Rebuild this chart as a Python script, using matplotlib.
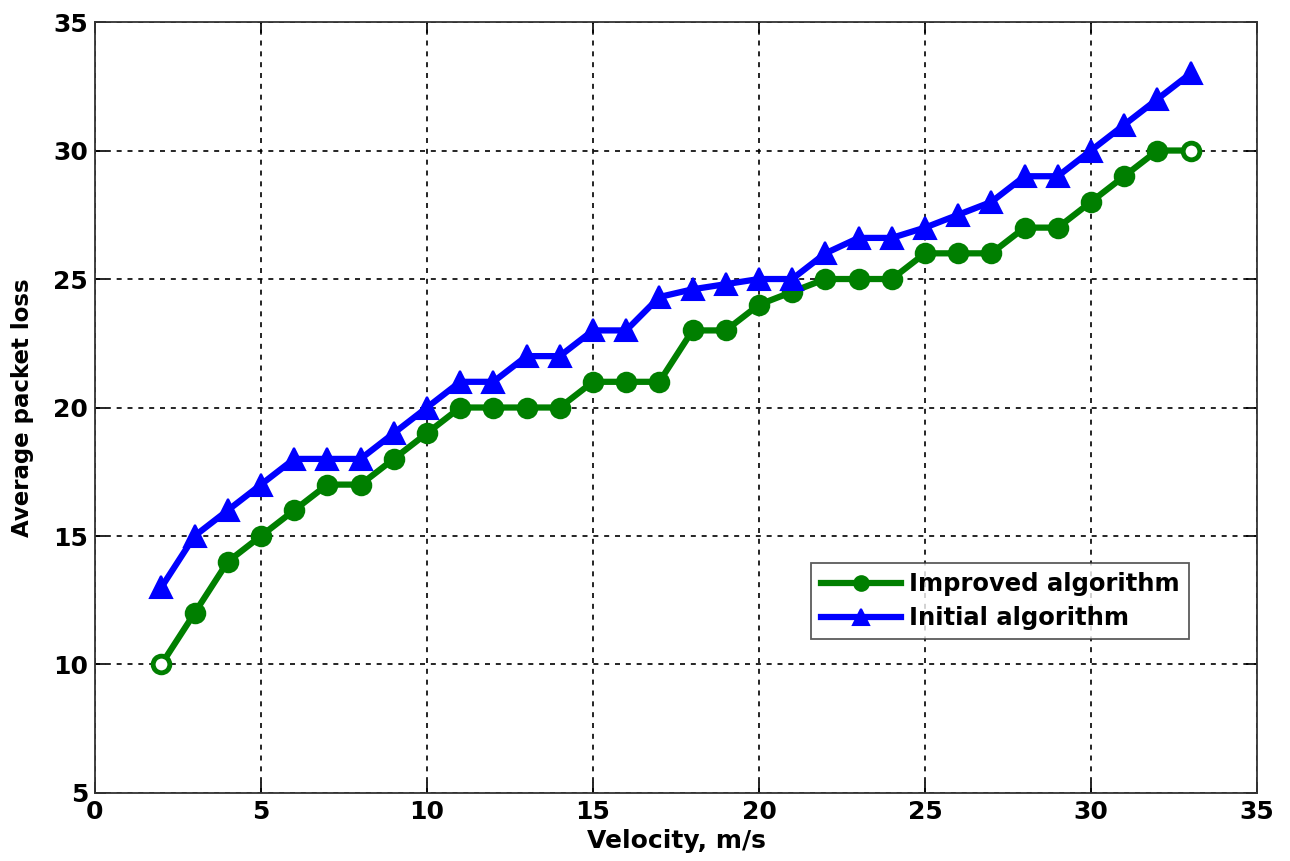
import matplotlib
matplotlib.use('Agg')
import matplotlib.pyplot as plt
import numpy as np

plt.rcParams['font.family'] = ['DejaVu Sans']

# data
velocity = [2, 3, 4, 5, 6, 7, 8, 9, 10, 11, 12, 13, 14, 15, 16, 17,
            18, 19, 20, 21, 22, 23, 24, 25, 26, 27, 28, 29, 30, 31, 32, 33]
improved = [10, 12, 14, 15, 16, 17, 17, 18, 19, 20, 20, 20, 20, 21, 21, 21,
            23, 23, 24, 24.5, 25, 25, 25, 26, 26, 26, 27, 27, 28, 29, 30, 30]
initial = [13, 15, 16, 17, 18, 18, 18, 19, 20, 21, 21, 22, 22, 23, 23, 24.3,
           24.6, 24.8, 25, 25, 26, 26.6, 26.6, 27, 27.5, 28, 29, 29, 30, 31, 32, 33]

green = '#007f00'
blue = '#0000ff'
inner = list(range(1, len(velocity) - 1))
ends = [0, len(velocity) - 1]

fig = plt.figure(figsize=(12.9, 8.61), dpi=100)
ax = fig.add_axes([0.0736, 0.079, 0.9008, 0.8954])

ax.plot(velocity, improved, color=green, lw=4.5, marker='o', ms=14,
        mew=1.5, markevery=inner, label='Improved algorithm', zorder=3)
ax.plot(velocity, improved, ls='none', marker='o', ms=12, mew=3.5,
        mec=green, mfc='white', markevery=ends, zorder=3)
ax.plot(velocity, initial, color=blue, lw=4.5, marker='^', ms=16,
        mew=1.5, label='Initial algorithm', zorder=4)

ax.set_xlim(0, 35)
ax.set_ylim(5, 35)
ax.set_xticks(np.arange(0, 36, 5))
ax.set_yticks(np.arange(5, 36, 5))
ax.grid(True, color='black', linestyle=(0, (3, 3.5)), linewidth=1.2)
ax.tick_params(direction='in', length=8, width=1.2, top=True, right=True,
               labelsize=18, pad=5)
for lab in ax.get_xticklabels() + ax.get_yticklabels():
    lab.set_fontweight('bold')
for s in ax.spines.values():
    s.set_linewidth(1.3)
    s.set_color('#333333')

ax.set_xlabel('Velocity, m/s', fontsize=18, fontweight='bold', labelpad=4)
ax.set_ylabel('Average packet loss', fontsize=16.5, fontweight='bold', labelpad=14)

leg = ax.legend(loc='upper left', bbox_to_anchor=(0.6165, 0.298), fontsize=17.5,
                frameon=True, fancybox=False, edgecolor='#333333',
                borderaxespad=0, handlelength=3.3, borderpad=0.38,
                labelspacing=0.4, handletextpad=0.35, markerscale=0.75)
leg.get_frame().set_linewidth(1.3)
for t in leg.get_texts():
    t.set_fontweight('bold')

fig.savefig('out.png', dpi=100, facecolor='white')
